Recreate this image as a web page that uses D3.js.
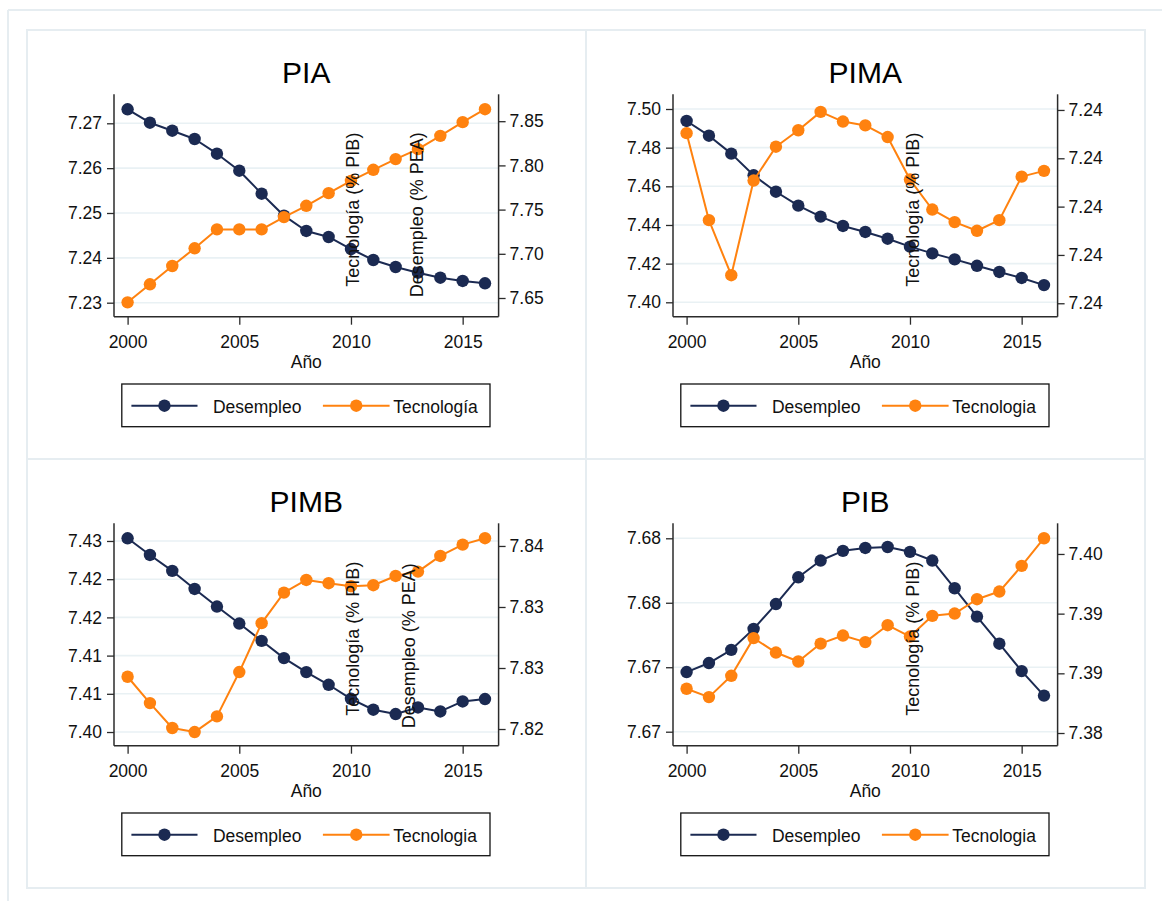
<!DOCTYPE html>
<html>
<head>
<meta charset="utf-8">
<script src="https://cdn.jsdelivr.net/npm/d3@7"></script>
<style>
  html, body { margin: 0; padding: 0; background: #ffffff; }
  svg { display: block; font-family: "Liberation Sans", Arial, Helvetica, sans-serif; }
</style>
</head>
<body>
<svg id="chart" width="1162" height="901"></svg>
<script>
// ---- data -------------------------------------------------------------
const years  = [2000, 2001, 2002, 2003, 2004, 2005, 2006, 2007, 2008,
                2009, 2010, 2011, 2012, 2013, 2014, 2015, 2016];
const xTicks = [2000, 2005, 2010, 2015];

// PIA
const piaDesempleo  = [7.27312, 7.27013, 7.26835, 7.26650, 7.26322, 7.25943, 7.25430, 7.24940, 7.24599,
                       7.24465, 7.24197, 7.23952, 7.23796, 7.23669, 7.23557, 7.23484, 7.23433];
const piaTecnologia = [7.6451, 7.6655, 7.6862, 7.7062, 7.7276, 7.7276, 7.7276, 7.7415, 7.7543,
                       7.7686, 7.7825, 7.7950, 7.8071, 7.8184, 7.8334, 7.8489, 7.8636];
const piaLeftTicks  = [7.23, 7.24, 7.25, 7.26, 7.27];
const piaRightTicks = [7.65, 7.70, 7.75, 7.80, 7.85];
const piaLeftRange  = [7.226878, 7.276466];
const piaRightRange = [7.628846, 7.880430];

// PIMA
const pimaDesempleo  = [7.4938, 7.4862, 7.4769, 7.4657, 7.4572, 7.4500, 7.4443, 7.4395, 7.4364,
                        7.4329, 7.4288, 7.4253, 7.4222, 7.4189, 7.4157, 7.4126, 7.4089];
const pimaTecnologia = [7.23976, 7.23886, 7.23829, 7.23927, 7.23962, 7.23979, 7.23998, 7.23988, 7.23984,
                        7.23972, 7.23928, 7.23897, 7.23884, 7.23875, 7.23886, 7.23931, 7.23937];
const pimaLeftTicks  = [7.40, 7.42, 7.44, 7.46, 7.48, 7.50];
const pimaRightTicks = [7.2380, 7.2385, 7.2390, 7.2395, 7.2400];
const pimaLeftRange  = [7.392550, 7.507605];
const pimaRightRange = [7.237861, 7.240162];

// PIMB
const pimbDesempleo  = [7.43042, 7.42780, 7.42530, 7.42247, 7.41970, 7.41703, 7.41432, 7.41161, 7.40941,
                        7.40742, 7.40522, 7.40350, 7.40282, 7.40386, 7.40323, 7.40480, 7.40518];
const pimbTecnologia = [7.82714, 7.82455, 7.82210, 7.82170, 7.82324, 7.82760, 7.83241, 7.83541, 7.83666,
                        7.83634, 7.83604, 7.83614, 7.83705, 7.83748, 7.83902, 7.84013, 7.84076];
const pimbLeftTicks  = [7.400, 7.406, 7.412, 7.418, 7.424, 7.430];
const pimbRightTicks = [7.822, 7.828, 7.834, 7.840];
const pimbLeftRange  = [7.397852, 7.432776];
const pimbRightRange = [7.820360, 7.842229];

// PIB
const pibDesempleo  = [7.67385, 7.67413, 7.67454, 7.67519, 7.67596, 7.67679, 7.67731, 7.67761, 7.67770,
                       7.67773, 7.67758, 7.67731, 7.67645, 7.67557, 7.67473, 7.67388, 7.67312];
const pibTecnologia = [7.38445, 7.38361, 7.38575, 7.38954, 7.38809, 7.38719, 7.38899, 7.38980, 7.38914,
                       7.39084, 7.38970, 7.39178, 7.39201, 7.39345, 7.39422, 7.39680, 7.39958];
const pibLeftTicks  = [7.672, 7.674, 7.676, 7.678];
const pibRightTicks = [7.380, 7.386, 7.392, 7.398];
const pibLeftRange  = [7.671566, 7.678465];
const pibRightRange = [7.378725, 7.401082];

const panels = [
  { title: "PIA",  col: 0, row: 0, left: piaDesempleo,  right: piaTecnologia,
    lTicks: piaLeftTicks,  rTicks: piaRightTicks,  lRange: piaLeftRange,  rRange: piaRightRange,
    legendRight: "Tecnología",
    notes: [{ text: "Tecnología (% PIB)", at: 2010.38, gap: 30 },
            { text: "Desempleo (% PEA)",  at: 2013.22, gap: 19.4 }] },
  { title: "PIMA", col: 1, row: 0, left: pimaDesempleo, right: pimaTecnologia,
    lTicks: pimaLeftTicks, rTicks: pimaRightTicks, lRange: pimaLeftRange, rRange: pimaRightRange,
    legendRight: "Tecnologia",
    notes: [{ text: "Tecnología (% PIB)", at: 2010.40, gap: 30 }] },
  { title: "PIMB", col: 0, row: 1, left: pimbDesempleo, right: pimbTecnologia,
    lTicks: pimbLeftTicks, rTicks: pimbRightTicks, lRange: pimbLeftRange, rRange: pimbRightRange,
    legendRight: "Tecnologia",
    notes: [{ text: "Tecnología (% PIB)", at: 2010.38, gap: 30 },
            { text: "Desempleo (% PEA)",  at: 2012.86, gap: 17.4 }] },
  { title: "PIB",  col: 1, row: 1, left: pibDesempleo,  right: pibTecnologia,
    lTicks: pibLeftTicks,  rTicks: pibRightTicks,  lRange: pibLeftRange,  rRange: pibRightRange,
    legendRight: "Tecnologia",
    notes: [{ text: "Tecnología (% PIB)", at: 2010.40, gap: 30 }] }
];

// ---- layout & style ---------------------------------------------------
const NAVY = "#1b2a52";
const ORANGE = "#ff820f";
const FRAME = "#e6edf1";
const GRID = "#e9f1f4";
const AXIS = "#2b2b2b";

const svg = d3.select("#chart");

// outer background frame
svg.append("line").attr("x1", 8).attr("x2", 1162).attr("y1", 10).attr("y2", 10)
  .attr("stroke", FRAME).attr("stroke-width", 2);
svg.append("line").attr("x1", 8).attr("x2", 8).attr("y1", 10).attr("y2", 901)
  .attr("stroke", FRAME).attr("stroke-width", 2);

// combined graph region and the cell dividers
const grid = { x0: 27, y0: 30, cellW: 559, cellH: 429 };
svg.append("rect").attr("x", grid.x0).attr("y", grid.y0)
  .attr("width", grid.cellW * 2).attr("height", grid.cellH * 2)
  .attr("fill", "none").attr("stroke", FRAME).attr("stroke-width", 2);
svg.append("line").attr("x1", grid.x0 + grid.cellW).attr("x2", grid.x0 + grid.cellW)
  .attr("y1", grid.y0).attr("y2", grid.y0 + grid.cellH * 2)
  .attr("stroke", FRAME).attr("stroke-width", 2);
svg.append("line").attr("x1", grid.x0).attr("x2", grid.x0 + grid.cellW * 2)
  .attr("y1", grid.y0 + grid.cellH).attr("y2", grid.y0 + grid.cellH)
  .attr("stroke", FRAME).attr("stroke-width", 2);

const plot = { left: 87, right: 471.6, top: 64.3, bottom: 286.7, inset: 13.6 };
const fmt = d3.format(".2f");

panels.forEach(p => {
  const g = svg.append("g")
    .attr("transform", `translate(${grid.x0 + p.col * grid.cellW},${grid.y0 + p.row * grid.cellH})`);

  const x = d3.scaleLinear().domain([years[0], years[years.length - 1]])
    .range([plot.left + plot.inset, plot.right - plot.inset]);
  const yL = d3.scaleLinear().domain(p.lRange).range([plot.bottom, plot.top]);
  const yR = d3.scaleLinear().domain(p.rRange).range([plot.bottom, plot.top]);

  // title
  g.append("text").attr("x", (plot.left + plot.right) / 2).attr("y", 53.3)
    .attr("text-anchor", "middle").attr("font-size", 30).attr("fill", "#000")
    .text(p.title);

  // horizontal grid at left-axis ticks
  g.append("g").selectAll("line").data(p.lTicks).join("line")
    .attr("x1", plot.left).attr("x2", plot.right)
    .attr("y1", d => yL(d)).attr("y2", d => yL(d))
    .attr("stroke", GRID).attr("stroke-width", 1.6);

  // axes
  const styleAxis = sel => {
    sel.select(".domain").attr("stroke", AXIS).attr("stroke-width", 1.5);
    sel.selectAll(".tick line").attr("stroke", AXIS).attr("stroke-width", 1.3);
    sel.selectAll(".tick text").attr("fill", "#111").attr("font-size", 17.5)
      .attr("font-family", '"Liberation Sans", Arial, Helvetica, sans-serif');
  };

  g.append("g").attr("transform", `translate(${plot.left},0)`)
    .call(d3.axisLeft(yL).tickValues(p.lTicks).tickFormat(fmt).tickSize(7).tickPadding(5).tickSizeOuter(0))
    .call(styleAxis)
    .call(s => s.select(".domain").attr("d", `M0,${plot.top}V${plot.bottom}`));

  g.append("g").attr("transform", `translate(${plot.right},0)`)
    .call(d3.axisRight(yR).tickValues(p.rTicks).tickFormat(fmt).tickSize(7).tickPadding(4).tickSizeOuter(0))
    .call(styleAxis)
    .call(s => s.select(".domain").attr("d", `M0,${plot.top}V${plot.bottom}`));

  g.append("g").attr("transform", `translate(0,${plot.bottom})`)
    .call(d3.axisBottom(x).tickValues(xTicks).tickFormat(d3.format("d")).tickSize(8).tickPadding(11).tickSizeOuter(0))
    .call(styleAxis)
    .call(s => s.select(".domain").attr("d", `M${plot.left},0H${plot.right}`));

  // x axis title
  g.append("text").attr("x", (plot.left + plot.right) / 2).attr("y", 338.3)
    .attr("text-anchor", "middle").attr("font-size", 17.5).attr("fill", "#111")
    .text("Año");

  // series: Desempleo on the left axis, Tecnología on the right axis
  const series = [
    { vals: p.left,  y: yL, color: NAVY },
    { vals: p.right, y: yR, color: ORANGE }
  ];
  series.forEach(s => {
    const pts = years.map((yr, i) => [yr, s.vals[i]]);
    g.append("path").datum(pts)
      .attr("fill", "none").attr("stroke", s.color).attr("stroke-width", 2)
      .attr("stroke-linejoin", "round")
      .attr("d", d3.line().x(d => x(d[0])).y(d => s.y(d[1])));
    g.append("g").selectAll("circle").data(pts).join("circle")
      .attr("cx", d => x(d[0])).attr("cy", d => s.y(d[1])).attr("r", 6.2)
      .attr("fill", s.color);
  });

  // rotated variable labels inside the plot
  p.notes.forEach(n => {
    const tx = x(n.at), ty = plot.bottom - n.gap;
    g.append("text").attr("transform", `translate(${tx},${ty}) rotate(-90)`)
      .attr("font-size", 18).attr("fill", "#111").text(n.text);
  });

  // legend
  const lg = g.append("g");
  lg.append("rect").attr("x", 94.8).attr("y", 354).attr("width", 368.2).attr("height", 42.7)
    .attr("fill", "#fff").attr("stroke", "#111").attr("stroke-width", 1.3);
  const cy = 375.7;
  const keys = [
    { label: "Desempleo",     color: NAVY,   x1: 104.4, x2: 170.5, tx: 185.9 },
    { label: p.legendRight,   color: ORANGE, x1: 295.9, x2: 362.6, tx: 366.2 }
  ];
  keys.forEach(k => {
    lg.append("line").attr("x1", k.x1).attr("x2", k.x2).attr("y1", cy).attr("y2", cy)
      .attr("stroke", k.color).attr("stroke-width", 2);
    lg.append("circle").attr("cx", (k.x1 + k.x2) / 2).attr("cy", cy).attr("r", 6.2).attr("fill", k.color);
    lg.append("text").attr("x", k.tx).attr("y", cy + 6.8).attr("font-size", 17.5).attr("fill", "#111")
      .text(k.label);
  });
});
</script>
</body>
</html>
